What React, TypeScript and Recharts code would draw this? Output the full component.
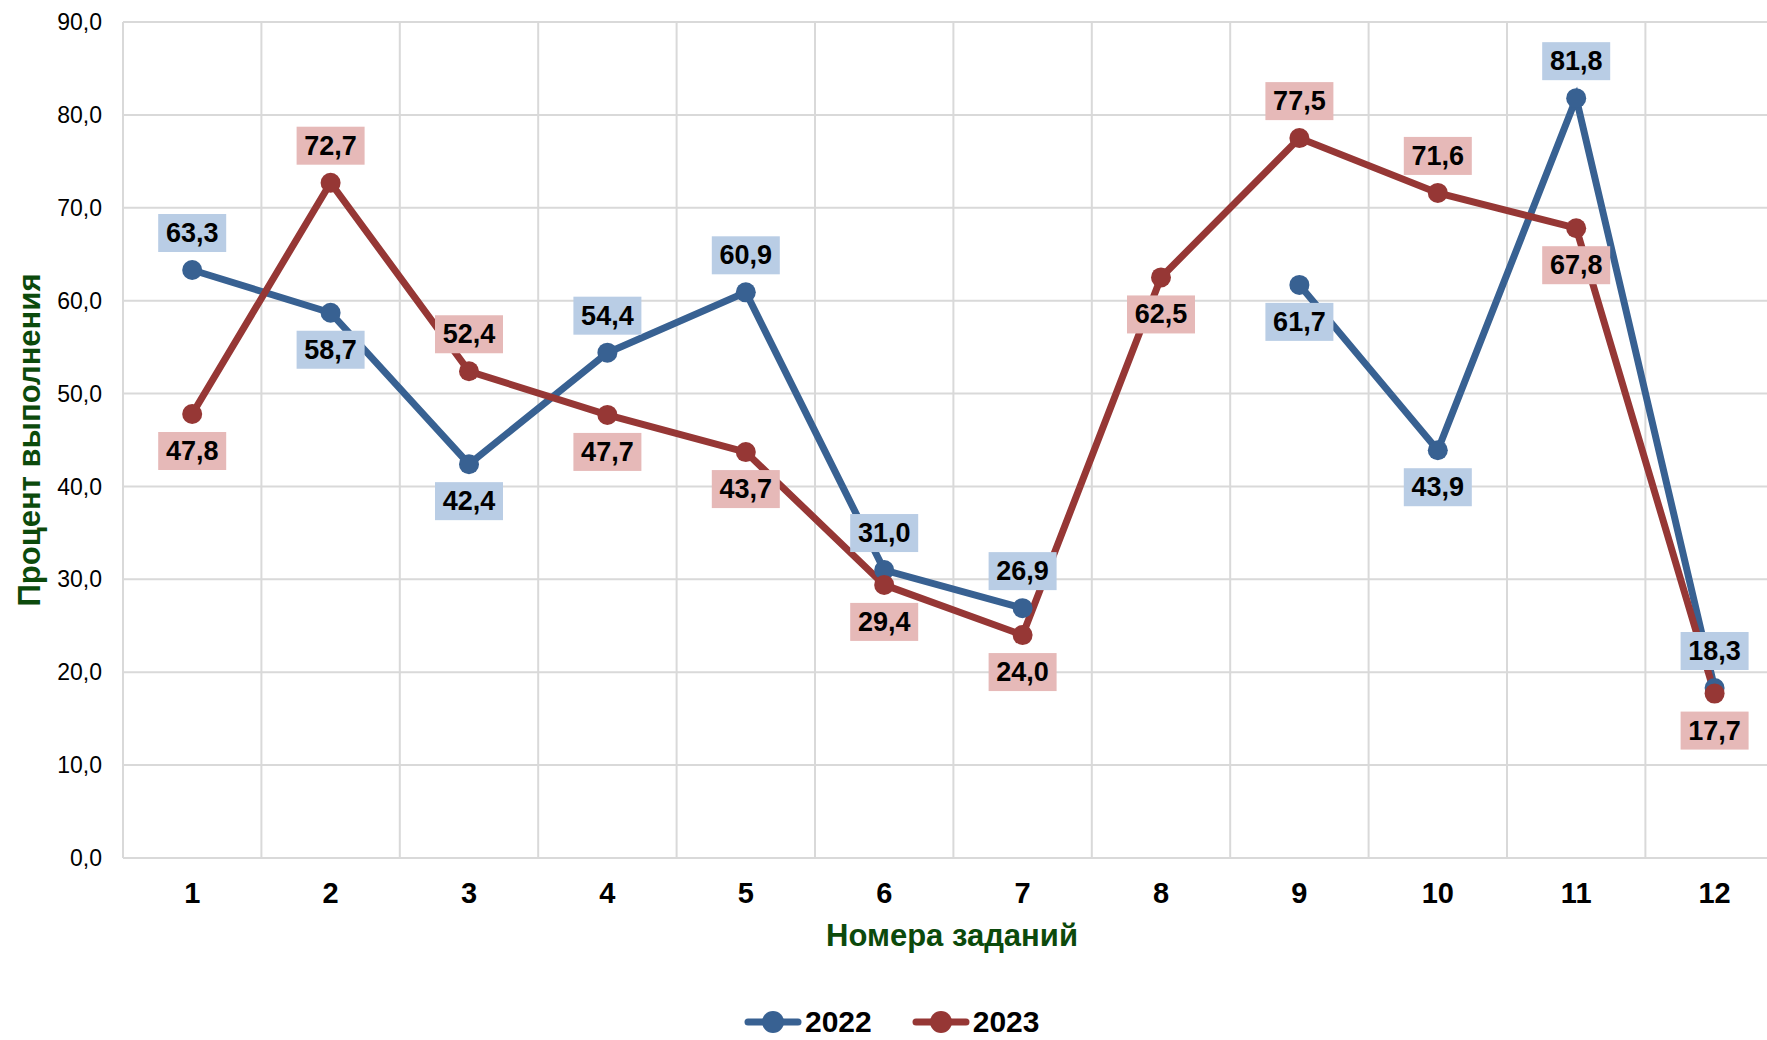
import React from 'react';
import { LineChart, Line, XAxis, YAxis, CartesianGrid, ReferenceLine, LabelList, Legend } from 'recharts';

const tasks = [1, 2, 3, 4, 5, 6, 7, 8, 9, 10, 11, 12];
const values2022: (number | null)[] = [63.3, 58.7, 42.4, 54.4, 60.9, 31.0, 26.9, null, 61.7, 43.9, 81.8, 18.3];
const values2023: number[] = [47.8, 72.7, 52.4, 47.7, 43.7, 29.4, 24.0, 62.5, 77.5, 71.6, 67.8, 17.7];
const place2022 = ['above', 'below', 'below', 'above', 'above', 'above', 'above', 'above', 'below', 'below', 'above', 'above'];
const place2023 = ['below', 'above', 'above', 'below', 'below', 'below', 'below', 'below', 'above', 'above', 'below', 'below'];
const yTicks = [0, 10, 20, 30, 40, 50, 60, 70, 80, 90];
const seriesNames = ['2022', '2023'];

const BLUE = '#386192';
const RED = '#963735';
const BLUE_BG = '#b9cde5';
const RED_BG = '#e6b9b8';
const GRID = '#d9d9d9';
const GREEN = '#0c4a0c';
const FONT = '"Liberation Sans", Arial, sans-serif';

const data = tasks.map((t, i) => ({ task: t, y2022: values2022[i], y2023: values2023[i] }));
const boundaries = tasks.slice(1).map((t) => t - 0.5);

const fmt = (v: number) => v.toFixed(1).replace('.', ',');

const makeLabel = (place: string[], bg: string) => (props: any) => {
  const { value, index } = props;
  const x = props.x ?? props.viewBox?.x;
  const y = props.y ?? props.viewBox?.y;
  if (value == null || x == null || y == null) return null;
  const up = place[index] === 'above';
  const cy = up ? y - 37 : y + 37;
  const w = 68;
  const h = 38;
  return (
    <g>
      <rect x={x - w / 2} y={cy - h / 2} width={w} height={h} fill={bg} />
      <text x={x} y={cy} textAnchor="middle" dominantBaseline="central" fontFamily={FONT} fontWeight="bold" fontSize={27} fill="#000">
        {fmt(Number(value))}
      </text>
    </g>
  );
};

const LegendContent = () => {
  const colors = [BLUE, RED];
  return (
    <div style={{ display: 'flex', alignItems: 'center', gap: 40 }}>
      {seriesNames.map((n, i) => (
        <div key={n} style={{ display: 'flex', alignItems: 'center' }}>
          <svg width={58} height={26} style={{ display: 'block' }}>
            <line x1={4} y1={13} x2={54} y2={13} stroke={colors[i]} strokeWidth={7} strokeLinecap="round" />
            <circle cx={29} cy={13} r={11} fill={colors[i]} />
          </svg>
          <span style={{ fontFamily: FONT, fontWeight: 'bold', fontSize: 30, color: '#000', marginLeft: 3, lineHeight: '34px' }}>{n}</span>
        </div>
      ))}
    </div>
  );
};

export default function App() {
  return (
    <div style={{ position: 'fixed', left: 0, top: 0, width: 1767, height: 1040, overflow: 'hidden', background: '#fff' }}>
      <LineChart width={1867} height={1040} data={data} margin={{ top: 22, right: 14, left: 0, bottom: 92 }}>
        <CartesianGrid vertical={false} stroke={GRID} strokeWidth={2} />
        {boundaries.map((b) => (
          <ReferenceLine key={b} x={b} stroke={GRID} strokeWidth={2} />
        ))}
        <XAxis
          dataKey="task"
          type="number"
          domain={[0.5, 12.5]}
          ticks={tasks}
          allowDecimals={false}
          height={90}
          axisLine={{ stroke: GRID, strokeWidth: 2 }}
          tickLine={false}
          tickSize={0}
          tickMargin={24}
          tick={{ fontFamily: FONT, fontWeight: 'bold', fontSize: 29, fill: '#000' }}
          label={{
            content: (p: any) => {
              const vb = p.viewBox || {};
              return (
                <text x={vb.x + 829} y={vb.y + 77} textAnchor="middle" dominantBaseline="central" fontFamily={FONT} fontWeight="bold" fontSize={31} fill={GREEN}>
                  Номера заданий
                </text>
              );
            },
          }}
        />
        <YAxis
          domain={[0, 90]}
          ticks={yTicks}
          width={123}
          axisLine={{ stroke: GRID, strokeWidth: 2 }}
          tickLine={false}
          tickSize={0}
          tickMargin={21}
          tickFormatter={(v: number) => fmt(v)}
          tick={{ fontFamily: FONT, fontSize: 23, fill: '#000' }}
          label={{
            content: (p: any) => {
              const vb = p.viewBox || {};
              const cx = 29;
              const cy = vb.y + vb.height / 2;
              return (
                <text x={cx} y={cy} transform={`rotate(-90, ${cx}, ${cy})`} textAnchor="middle" dominantBaseline="central" fontFamily={FONT} fontWeight="bold" fontSize={31} fill={GREEN}>
                  Процент выполнения
                </text>
              );
            },
          }}
        />
        <Line dataKey="y2022" name="2022" stroke={BLUE} strokeWidth={7} dot={{ r: 10, fill: BLUE, stroke: 'none' }} activeDot={false} isAnimationActive={false} />
        <Line dataKey="y2023" name="2023" stroke={RED} strokeWidth={7} dot={{ r: 10, fill: RED, stroke: 'none' }} activeDot={false} isAnimationActive={false} />
        <Line dataKey="y2022" legendType="none" stroke="none" dot={false} activeDot={false} isAnimationActive={false}>
          <LabelList dataKey="y2022" content={makeLabel(place2022, BLUE_BG)} />
        </Line>
        <Line dataKey="y2023" legendType="none" stroke="none" dot={false} activeDot={false} isAnimationActive={false}>
          <LabelList dataKey="y2023" content={makeLabel(place2023, RED_BG)} />
        </Line>
        <Legend
          layout="horizontal"
          verticalAlign="middle"
          align="center"
          content={<LegendContent />}
          wrapperStyle={{ left: 744, top: 1005, width: 'auto', height: 'auto' }}
        />
      </LineChart>
    </div>
  );
}
